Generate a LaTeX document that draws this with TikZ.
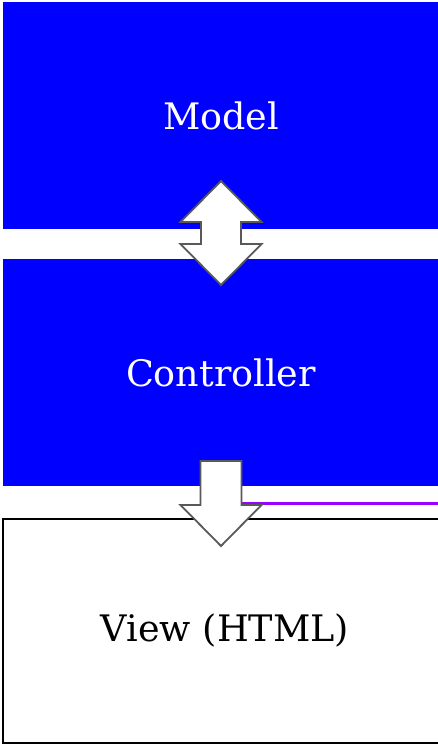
\documentclass[tikz,border=0pt]{standalone}
\usepackage{fontspec}
\setmainfont{DejaVu Serif}
\usetikzlibrary{positioning}
\definecolor{mvcblue}{RGB}{0,0,255}
\definecolor{mvcpurple}{RGB}{153,0,255}
\definecolor{arrowgray}{RGB}{89,89,89}

\begin{document}
\begin{tikzpicture}[x=1pt, y=-1pt, node distance=30pt,
                    layer/.style={minimum width=436pt,minimum height=227pt,inner sep=0pt,
                                  font=\fontsize{36.5}{44}\selectfont},
                    blue layer/.style={layer,fill=mvcblue,text=white},
                    view layer/.style={layer,draw=black,line width=2pt,fill=white},
                    hollow arrow/.style={draw=arrowgray,line width=1.8pt,fill=white,line join=miter}]

  \useasboundingbox (0,0) rectangle (438,744);
  \clip (0,0) rectangle (438,744);

  \node[blue layer] (model) at (221,115.5) {Model};
  \node[blue layer] (controller) [below=of model] {Controller};
  \node[view layer, minimum width=444pt, minimum height=224pt] (view)
       [below=31pt of controller, xshift=4pt] {\raisebox{-1.5pt}{View (HTML)}};

  % arrow anchors
  \coordinate (gap1) at (221,233);
  \coordinate (gap2) at (221,461);
  \coordinate (lineend) at (442,503);

  \draw[mvcpurple, line width=3pt] ([xshift=20.5pt, yshift=-42pt]gap2) -- (lineend);

  \draw[hollow arrow] (gap1) ++(0,-52) -- ++(40.5,41) -- ++(-20.5,0) -- ++(0,22)
       -- ++(20.5,0) -- ++(-40.5,41) -- ++(-40.5,-41) -- ++(20.5,0) -- ++(0,-22)
       -- ++(-20.5,0) -- cycle;

  \draw[hollow arrow] (gap2) ++(-20.5,0) -- ++(41,0) -- ++(0,44) -- ++(20,0)
       -- ++(-40.5,41) -- ++(-40.5,-41) -- ++(20,0) -- cycle;
\end{tikzpicture}
\end{document}
